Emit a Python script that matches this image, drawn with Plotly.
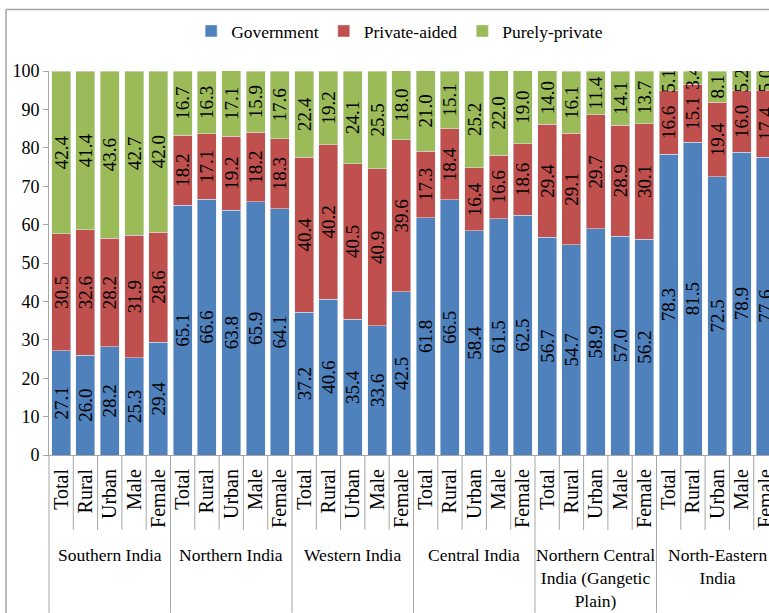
import plotly.graph_objects as go

regions = ["Southern India", "Northern India", "Western India", "Central India",
           "Northern Central<br>India (Gangetic<br>Plain)", "North-Eastern<br>India"]
subgroups = ["Total", "Rural", "Urban", "Male", "Female"]

government = [27.1, 26.0, 28.2, 25.3, 29.4,
              65.1, 66.6, 63.8, 65.9, 64.1,
              37.2, 40.6, 35.4, 33.6, 42.5,
              61.8, 66.5, 58.4, 61.5, 62.5,
              56.7, 54.7, 58.9, 57.0, 56.2,
              78.3, 81.5, 72.5, 78.9, 77.6]
private_aided = [30.5, 32.6, 28.2, 31.9, 28.6,
                 18.2, 17.1, 19.2, 18.2, 18.3,
                 40.4, 40.2, 40.5, 40.9, 39.6,
                 17.3, 18.4, 16.4, 16.6, 18.6,
                 29.4, 29.1, 29.7, 28.9, 30.1,
                 16.6, 15.1, 19.4, 16.0, 17.4]
purely_private = [42.4, 41.4, 43.6, 42.7, 42.0,
                  16.7, 16.3, 17.1, 15.9, 17.6,
                  22.4, 19.2, 24.1, 25.5, 18.0,
                  21.0, 15.1, 25.2, 22.0, 19.0,
                  14.0, 16.1, 11.4, 14.1, 13.7,
                  5.1, 3.4, 8.1, 5.2, 5.0]

FONT = "Liberation Serif"
GRAY = "#A6A6A6"
X_RANGE = [-0.5, 29.13]

n_sub = len(subgroups)
x_pos = list(range(len(regions) * n_sub))
tick_text = subgroups * len(regions)


def to_paper(v):
    return (v - X_RANGE[0]) / (X_RANGE[1] - X_RANGE[0])


fig = go.Figure()
for name, vals, color in [("Government", government, "#4F81BD"),
                          ("Private-aided", private_aided, "#C0504D"),
                          ("Purely-private", purely_private, "#9BBB59")]:
    fig.add_trace(go.Bar(
        x=x_pos, y=vals, name=name, marker_color=color,
        texttemplate="%{y:.1f}", textposition="inside", textangle=-90,
        insidetextanchor="middle",
        textfont=dict(family=FONT, size=19, color="black"),
    ))

shapes = []
# short dividers between sub-categories, long ones between regions
for i in range(len(x_pos)):
    edge = i - 0.5
    bottom = -0.411 if i % n_sub == 0 else -0.195
    shapes.append(dict(type="line", xref="paper", yref="paper",
                       x0=to_paper(edge), x1=to_paper(edge), y0=0, y1=bottom,
                       line=dict(color=GRAY, width=1)))
# outer frame
shapes.append(dict(type="line", xref="paper", yref="paper",
                   x0=-0.0597, x1=1.01, y0=1.16, y1=1.16,
                   line=dict(color=GRAY, width=1.5)))
shapes.append(dict(type="line", xref="paper", yref="paper",
                   x0=-0.0597, x1=-0.0597, y0=1.16, y1=-0.42,
                   line=dict(color=GRAY, width=1.5)))

annotations = []
for g, region in enumerate(regions):
    annotations.append(dict(
        x=g * n_sub + 2, xref="x", y=-0.228, yref="paper",
        text=region, showarrow=False, xanchor="center", yanchor="top",
        font=dict(family=FONT, size=17.5, color="black"),
    ))

fig.update_layout(
    barmode="stack",
    bargap=0.22,
    width=769, height=613,
    margin=dict(l=49, r=0, t=71, b=158),
    plot_bgcolor="white", paper_bgcolor="white",
    font=dict(family=FONT, color="black"),
    uniformtext=dict(minsize=19, mode="show"),
    legend=dict(orientation="h", x=0.487, xanchor="center", y=1.104, yanchor="middle",
                font=dict(family=FONT, size=17.5), itemwidth=30, traceorder="normal"),
    shapes=shapes,
    annotations=annotations,
)
fig.update_xaxes(range=X_RANGE, tickvals=x_pos, ticktext=tick_text, tickangle=-90,
                 tickfont=dict(family=FONT, size=20), ticks="", ticklabelstandoff=5,
                 ticklabeloverflow="allow",
                 showline=True, linecolor=GRAY, showgrid=False, zeroline=False,
                 automargin=False)
fig.update_yaxes(range=[0, 100], dtick=10, tickfont=dict(family=FONT, size=18),
                 ticks="outside", ticklen=5, tickcolor=GRAY,
                 showline=True, linecolor=GRAY, showgrid=False, zeroline=False,
                 automargin=False)

fig.write_html("out.html", config={"displayModeBar": False},
               post_script="document.body.style.margin='0';")
